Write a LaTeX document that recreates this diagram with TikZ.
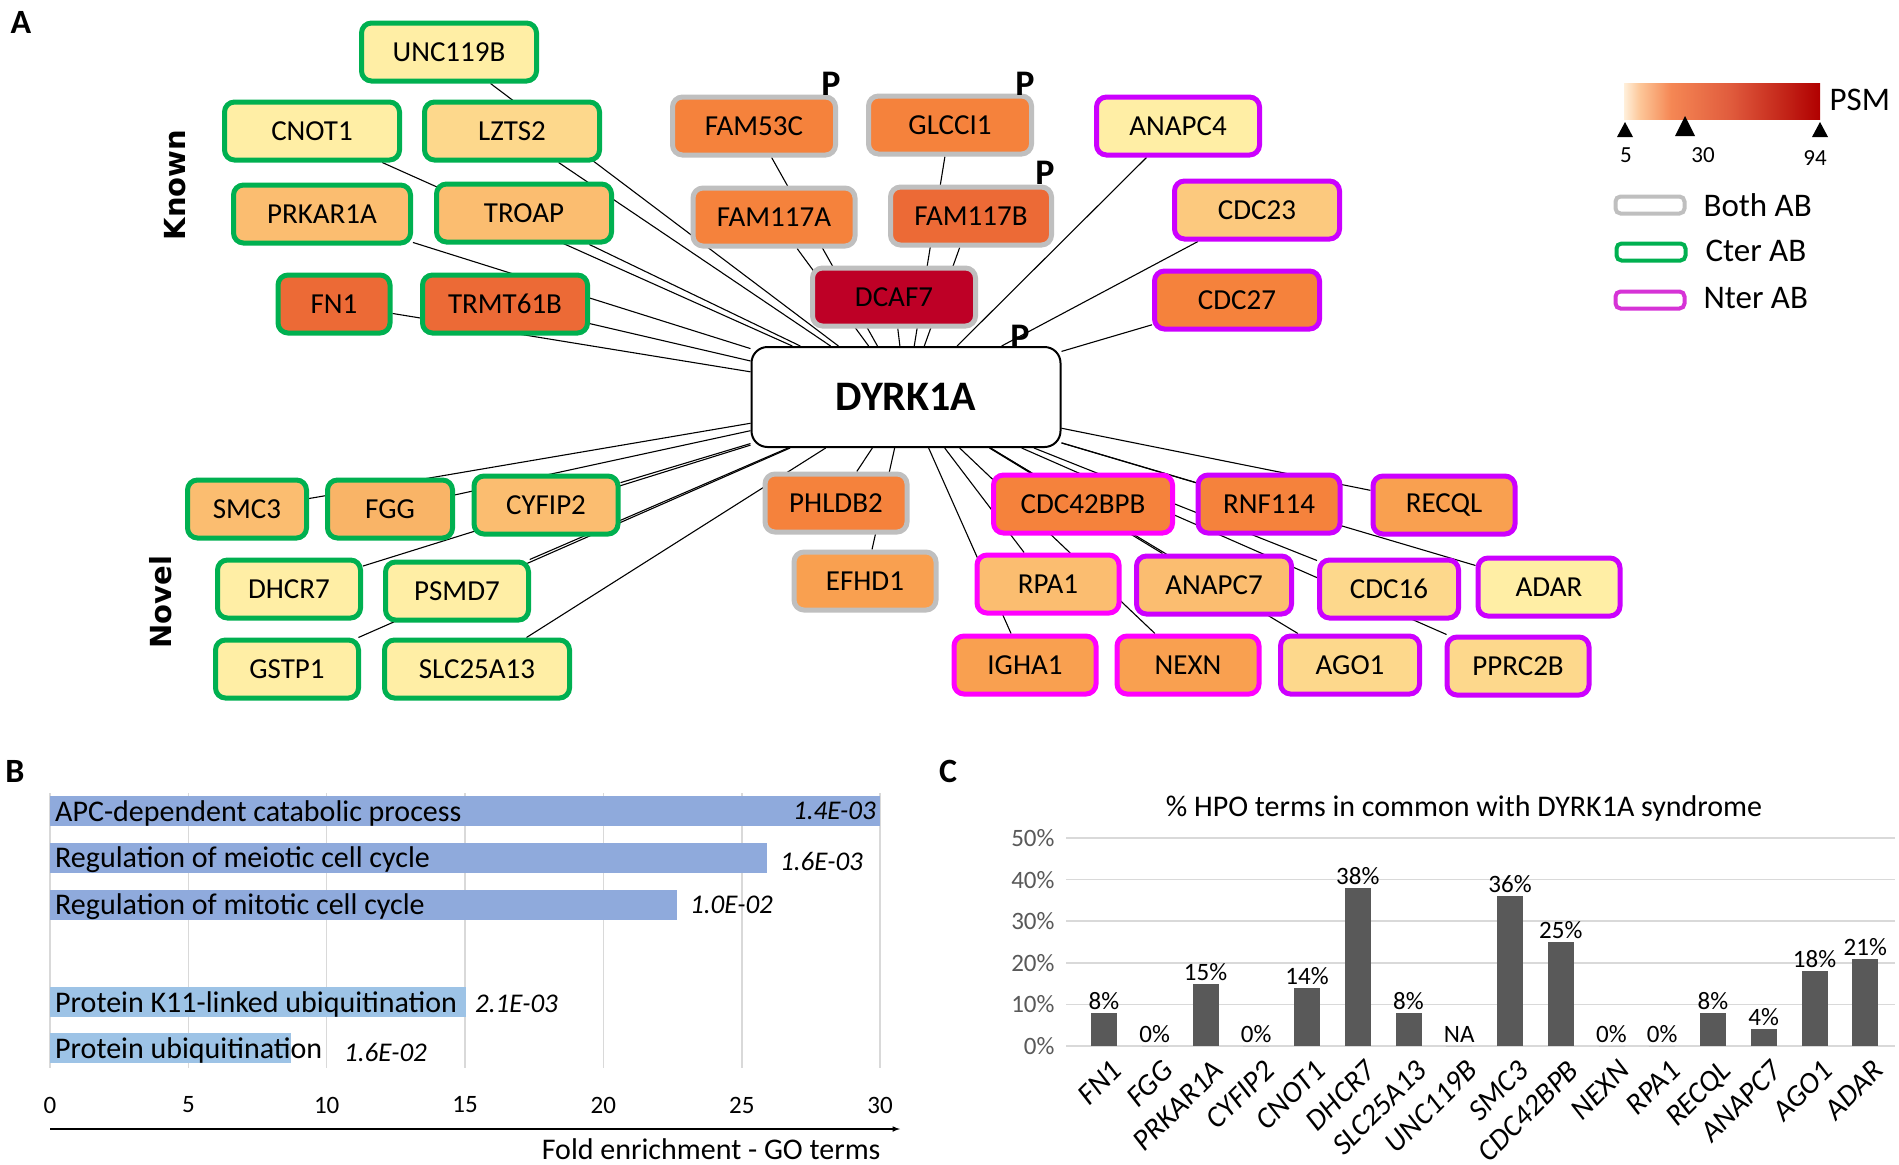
\documentclass[tikz,border=0pt]{standalone}
\usepackage{fontspec}
\setmainfont{Carlito}
\newfontfamily\sidefont{DejaVu Sans}
\usetikzlibrary{arrows, backgrounds}

\definecolor{ctergreen}{RGB}{0,176,80}
\definecolor{bothgray}{RGB}{191,191,191}
\definecolor{nterviolet}{RGB}{204,0,255}
\definecolor{nterpink}{RGB}{255,0,255}
\definecolor{legpink}{RGB}{214,51,214}
\definecolor{psmA}{RGB}{255,238,165}
\definecolor{psmB}{RGB}{253,216,140}
\definecolor{psmC}{RGB}{252,201,126}
\definecolor{psmD}{RGB}{251,189,112}
\definecolor{psmE}{RGB}{249,180,103}
\definecolor{psmF}{RGB}{249,160,80}
\definecolor{psmG}{RGB}{245,130,60}
\definecolor{psmH}{RGB}{236,106,54}
\definecolor{psmI}{RGB}{190,0,38}
\definecolor{goblue}{RGB}{143,170,220}
\definecolor{golight}{RGB}{157,195,230}
\definecolor{gridgray}{RGB}{217,217,217}
\definecolor{bargray}{RGB}{89,89,89}

\pgfdeclarehorizontalshading{psmscale}{100bp}{rgb(0bp)=(1,0.94,0.86); rgb(25bp)=(1,0.94,0.86); rgb(29bp)=(0.99,0.78,0.60); rgb(37bp)=(0.96,0.53,0.33); rgb(52bp)=(0.88,0.36,0.24); rgb(75bp)=(0.69,0,0); rgb(100bp)=(0.69,0,0)}

\tikzstyle{prot} = [rectangle, rounded corners=10pt, minimum width=142pt, minimum height=58pt, inner sep=0pt, line width=5pt, text centered, font=\fontsize{29}{34}\selectfont]
\tikzstyle{bothab} = [prot, draw=bothgray]
\tikzstyle{cterab} = [prot, draw=ctergreen]
\tikzstyle{nterab} = [prot, draw=nterviolet]
\tikzstyle{hub} = [rectangle, rounded corners=16pt, minimum width=309pt, minimum height=100pt, line width=2pt, draw=black, fill=white, font=\fontsize{42}{48}\selectfont\bfseries]
\tikzstyle{link} = [line width=1.1pt]
\tikzstyle{phos} = [font=\fontsize{36}{40}\selectfont\bfseries]
\tikzstyle{panel} = [font=\fontsize{34}{40}\selectfont\bfseries]
\tikzstyle{sidelbl} = [rotate=90, font=\fontsize{29}{34}\sidefont\bfseries]
\tikzstyle{legbox} = [rectangle, rounded corners=5pt, minimum width=69pt, minimum height=17pt, line width=4pt]
\tikzstyle{legtxt} = [anchor=west, font=\fontsize{33}{38}\selectfont]
\tikzstyle{gridline} = [gridgray, line width=1.5pt]
\tikzstyle{golabel} = [anchor=west, inner sep=0pt, font=\fontsize{30}{34}\selectfont]
\tikzstyle{pval} = [inner sep=0pt, font=\fontsize{27}{30}\selectfont\itshape]
\tikzstyle{ticklbl} = [font=\fontsize{25}{30}\selectfont]
\tikzstyle{ylbl} = [anchor=east, text=bargray, font=\fontsize{25}{30}\selectfont]
\tikzstyle{barval} = [anchor=south, inner sep=1pt, font=\fontsize{25}{30}\selectfont]
\tikzstyle{genelbl} = [rotate=45, anchor=north east, inner sep=1pt, font=\fontsize{30}{34}\selectfont\itshape]
\tikzstyle{arrow} = [line width=1.5pt, -latex]

\begin{document}
\begin{tikzpicture}[x=1pt, y=-1pt]
\useasboundingbox (0,0) rectangle (1899,1165);

\node (pa) [panel] at (21,22) {A};
\node (pb) [panel] at (15,771) {B};
\node (pc) [panel] at (948,771) {C};

\node (known) [sidelbl] at (175,185) {Known};
\node (novel) [sidelbl] at (161,602) {Novel};

\node (dyrk1a) [hub] at (906,397) {DYRK1A};

\node (unc119b) [cterab, fill=psmA, minimum width=175pt] at (449,52) {UNC119B};
\node (cnot1) [cterab, fill=psmA, minimum width=175pt] at (312,131) {CNOT1};
\node (lzts2) [cterab, fill=psmB, minimum width=175pt] at (512,131) {LZTS2};
\node (prkar1a) [cterab, fill=psmD, minimum width=177pt] at (322,214) {PRKAR1A};
\node (troap) [cterab, fill=psmD, minimum width=175pt] at (524,213) {TROAP};
\node (fn1) [cterab, fill=psmH, minimum width=112pt] at (334,304) {FN1};
\node (trmt61b) [cterab, fill=psmH, minimum width=165pt] at (505,304) {TRMT61B};

\node (fam53c) [bothab, fill=psmG, minimum width=163pt] at (754,126) {FAM53C};
\node (glcci1) [bothab, fill=psmG, minimum width=163pt] at (950,125) {GLCCI1};
\node (fam117a) [bothab, fill=psmG, minimum width=162pt] at (774,217) {FAM117A};
\node (fam117b) [bothab, fill=psmH, minimum width=161pt] at (971,216) {FAM117B};
\node (dcaf7) [bothab, fill=psmI, minimum width=163pt] at (894,297) {DCAF7};
\node (phldb2) [bothab, fill=psmG] at (836,503) {PHLDB2};
\node (efhd1) [bothab, fill=psmF] at (865,581) {EFHD1};

\node (anapc4) [nterab, fill=psmA, minimum width=163pt] at (1178,126) {ANAPC4};
\node (cdc23) [nterab, fill=psmC, minimum width=165pt] at (1257,210) {CDC23};
\node (cdc27) [nterab, fill=psmG, minimum width=165pt] at (1237,300) {CDC27};

\node (smc3) [cterab, fill=psmD, minimum width=119pt] at (247,509) {SMC3};
\node (fgg) [cterab, fill=psmE, minimum width=125pt] at (390,509) {FGG};
\node (cyfip2) [cterab, fill=psmD, minimum width=144pt] at (546,505) {CYFIP2};
\node (dhcr7) [cterab, fill=psmA, minimum width=143pt] at (289,589) {DHCR7};
\node (psmd7) [cterab, fill=psmA, minimum width=143pt] at (457,591) {PSMD7};
\node (gstp1) [cterab, fill=psmA, minimum width=143pt] at (287,669) {GSTP1};
\node (slc25a13) [cterab, fill=psmA, minimum width=185pt] at (477,669) {SLC25A13};

\node (cdc42bpb) [nterab, draw=nterpink, fill=psmG, minimum width=179pt] at (1083,504) {CDC42BPB};
\node (rnf114) [nterab, fill=psmG] at (1269,504) {RNF114};
\node (recql) [nterab, fill=psmF] at (1444,505) {RECQL};
\node (rpa1) [nterab, draw=nterpink, fill=psmD] at (1048,584) {RPA1};
\node (anapc7) [nterab, fill=psmD, minimum width=155pt] at (1214,585) {ANAPC7};
\node (cdc16) [nterab, fill=psmB, minimum width=139pt] at (1389,589) {CDC16};
\node (adar) [nterab, fill=psmA] at (1549,587) {ADAR};
\node (igha1) [nterab, draw=nterpink, fill=psmF] at (1025,665) {IGHA1};
\node (nexn) [nterab, draw=nterpink, fill=psmF] at (1188,665) {NEXN};
\node (ago1) [nterab, fill=psmB, minimum width=139pt] at (1350,665) {AGO1};
\node (pprc2b) [nterab, fill=psmB] at (1518,666) {PPRC2B};

\node (pfam53c) [phos] at (831,84) {P};
\node (pglcci1) [phos] at (1025,84) {P};
\node (pfam117b) [phos] at (1045,173) {P};
\node (pdyrk1a) [phos] at (1020,337) {P};

\begin{pgfonlayer}{background}
\fill[white] (0,0) rectangle (1899,1165);
\foreach \n in {unc119b, cnot1, lzts2, prkar1a, troap, fn1, trmt61b, fam53c, glcci1, fam117a, fam117b, dcaf7, phldb2, efhd1, anapc4, cdc23, cdc27, smc3, fgg, cyfip2, dhcr7, psmd7, gstp1, slc25a13, cdc42bpb, rnf114, recql, rpa1, anapc7, cdc16, adar, igha1, nexn, ago1, pprc2b}
  \draw[link] (dyrk1a) -- (\n);
\end{pgfonlayer}

\node (psmbar) [rectangle, minimum width=196pt, minimum height=36pt, inner sep=0pt, shade, shading=psmscale] at (1722,101) {};
\node (psm) [anchor=west, font=\fontsize{33}{38}\selectfont] at (1826,100) {PSM};
\fill (1625,122) -- (1617,137) -- (1633,137) -- cycle;
\fill (1685,116) -- (1675,136) -- (1695,136) -- cycle;
\fill (1820,122) -- (1812,137) -- (1828,137) -- cycle;
\node (psmlo) [ticklbl, font=\fontsize{23}{28}\selectfont] at (1626,155) {5};
\node (psmmid) [ticklbl, font=\fontsize{23}{28}\selectfont] at (1703,155) {30};
\node (psmhi) [ticklbl, font=\fontsize{23}{28}\selectfont] at (1815,158) {94};

\node (legboth) [legbox, draw=bothgray] at (1650,205) {};
\node (legbothtxt) [legtxt] at (1700,205) {Both AB};
\node (legcter) [legbox, draw=ctergreen] at (1651,252) {};
\node (legctertxt) [legtxt] at (1702,251) {Cter AB};
\node (legnter) [legbox, draw=legpink] at (1650,300) {};
\node (legntertxt) [legtxt] at (1700,298) {Nter AB};

\foreach \x in {0,5,...,30} {
  \draw[gridline] ({50+27.67*\x},793) -- ({50+27.67*\x},1068);
  \node (gotick\x) [ticklbl] at ({50+27.67*\x},1105) {\x};
}
\foreach \i/\yc/\val/\col/\term in {1/811/30/goblue/{APC-dependent catabolic process}, 2/858/25.93/goblue/{Regulation of meiotic cell cycle}, 3/905/22.65/goblue/{Regulation of mitotic cell cycle}, 4/1002/15.04/golight/{Protein K11-linked ubiquitination}, 5/1048/8.7/golight/{Protein ubiquitination}} {
  \fill[\col] (50,{\yc-15}) rectangle ({50+27.67*\val},{\yc+15});
  \node (go\i) [golabel] at (55,{\yc+2}) {\term};
}
\node (pv1) [pval, anchor=east] at (876,811) {1.4E-03};
\node (pv2) [pval, anchor=west] at (780,861) {1.6E-03};
\node (pv3) [pval, anchor=west] at (690,905) {1.0E-02};
\node (pv4) [pval, anchor=west] at (475,1004) {2.1E-03};
\node (pv5) [pval, anchor=west] at (344,1052) {1.6E-02};
\coordinate (xstart) at (50,1129);
\coordinate (xend) at (900,1129);
\draw[arrow] (xstart) -- (xend);
\node (xtitle) [anchor=east, font=\fontsize{30}{34}\selectfont] at (884,1149) {Fold enrichment - GO terms};

\node (hpotitle) [font=\fontsize{30}{34}\selectfont] at (1464,808) {\% HPO terms in common with DYRK1A syndrome};
\foreach \p in {0,10,...,50} {
  \draw[gridline] (1066,{1046-4.16*\p}) -- (1895,{1046-4.16*\p});
  \node (hpo\p) [ylbl] at (1058,{1046-4.16*\p}) {\p\%};
}
\foreach \i/\gene/\val/\lbl in {0/FN1/8/8\%, 1/FGG/0/0\%, 2/PRKAR1A/15/15\%, 3/CYFIP2/0/0\%, 4/CNOT1/14/14\%, 5/DHCR7/38/38\%, 6/SLC25A13/8/8\%, 7/UNC119B/0/NA, 8/SMC3/36/36\%, 9/CDC42BPB/25/25\%, 10/NEXN/0/0\%, 11/RPA1/0/0\%, 12/RECQL/8/8\%, 13/ANAPC7/4/4\%, 14/AGO1/18/18\%, 15/ADAR/21/21\%} {
  \fill[bargray] ({1091+50.75*\i},1046) rectangle ({1117+50.75*\i},{1046-4.16*\val});
  \node (val\i) [barval] at ({1104+50.75*\i},{1044-4.16*\val}) {\lbl};
  \node (gene\i) [genelbl] at ({1110+50.75*\i},1057) {\gene};
}

\end{tikzpicture}
\end{document}
